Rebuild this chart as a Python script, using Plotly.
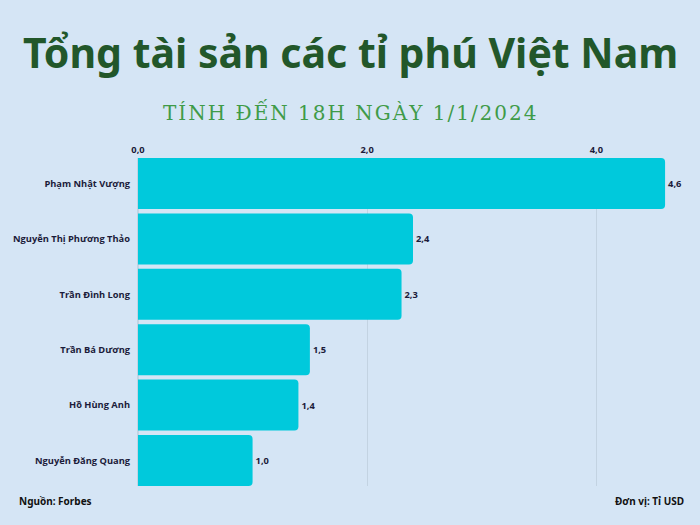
import plotly.graph_objects as go

names = ["Phạm Nhật Vượng", "Nguyễn Thị Phương Thảo", "Trần Đình Long",
         "Trần Bá Dương", "Hồ Hùng Anh", "Nguyễn Đăng Quang"]
values = [4.6, 2.4, 2.3, 1.5, 1.4, 1.0]
tick_vals = [0, 2, 4]
tick_text = ["0,0", "2,0", "4,0"]
labels = [f"{v:.1f}".replace(".", ",") for v in values]

title = "Tổng tài sản các tỉ phú Việt Nam"
subtitle = "TÍNH ĐẾN 18H NGÀY 1/1/2024"
subtitle_spaced = "\u200a".join(subtitle)

W, H = 700, 525
L, R, T, B = 138, 12, 158, 39
pw, ph = W - L - R, H - T - B


def px(x):
    return (x - L) / pw


def py(y):
    return (H - B - y) / ph


lab_font = dict(family="Open Sans", size=9.3, color="#1B1B3A", weight=700)
bg = "#D5E5F5"
gap = 0.08
fig = go.Figure(go.Bar(
    x=values, y=names, orientation="h",
    marker=dict(color="#00C9DC", line=dict(width=0)),
    text=labels, textposition="outside", textfont=lab_font,
    cliponaxis=False, hoverinfo="skip",
))
fig.update_layout(
    width=W, height=H, paper_bgcolor=bg, plot_bgcolor=bg,
    margin=dict(l=L, r=R, t=T, b=B, autoexpand=False),
    bargap=gap, barcornerradius=4, showlegend=False,
    xaxis=dict(range=[0, 4.8], side="top", tickvals=tick_vals, ticktext=tick_text,
               showgrid=True, gridcolor="#C3D3E2", gridwidth=1, zeroline=True,
               zerolinecolor="#C3D3E2", ticks="", ticklabelstandoff=2,
               tickfont=lab_font, automargin=False, fixedrange=True),
    yaxis=dict(range=[len(names) - 1 + (1 - gap) / 2, -(1 - gap) / 2],
               showgrid=False, ticks="", ticklabelstandoff=7,
               tickfont=lab_font, automargin=False, fixedrange=True),
    annotations=[
        dict(text=f"<b>{title}</b>", x=px(350), y=py(52), xref="paper",
             yref="paper", showarrow=False, xanchor="center", yanchor="middle",
             font=dict(family="Noto Sans", size=41, color="#22572A", weight=800)),
        dict(text=subtitle_spaced, x=px(350), y=py(112), xref="paper", yref="paper",
             showarrow=False, xanchor="center", yanchor="middle",
             font=dict(family="DejaVu Serif", size=20, color="#3F9B48")),
        dict(text="<b>Nguồn: Forbes</b>", x=px(17), y=py(501), xref="paper", yref="paper",
             xanchor="left", yanchor="middle", showarrow=False,
             font=dict(family="Noto Sans", size=10, color="#111111")),
        dict(text="<b>Đơn vị: Tỉ USD</b>", x=px(686), y=py(501), xref="paper", yref="paper",
             xanchor="right", yanchor="middle", showarrow=False,
             font=dict(family="Noto Sans", size=10, color="#111111")),
    ],
)
fig.write_html("out.html", config={"displayModeBar": False},
               post_script="document.body.style.margin='0';")
